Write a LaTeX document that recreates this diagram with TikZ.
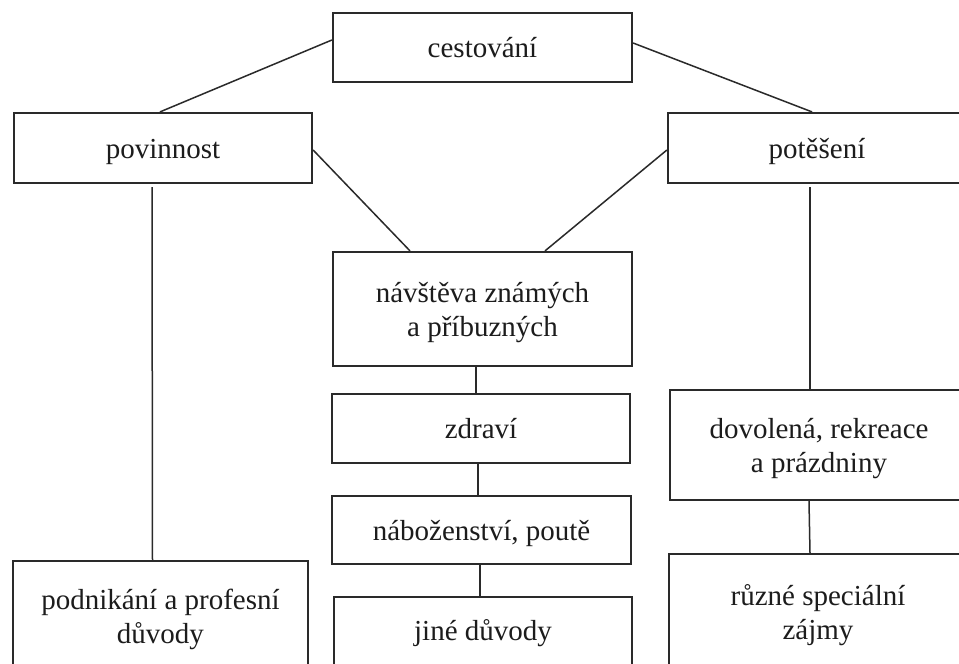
\documentclass[tikz,border=0pt]{standalone}
\usepackage{fontspec}
\setmainfont{Liberation Serif}
\usetikzlibrary{calc}
\definecolor{ink}{HTML}{2A2A2A}
\definecolor{txt}{HTML}{1C1C1C}
% text block: first baseline, declared height 20pt, declared depth #1 pt
\newcommand{\boxtext}[2]{\raisebox{0pt}[20pt][#1pt]{\begin{tabular}[t]{@{}c@{}}#2\end{tabular}}}
\begin{document}
\begin{tikzpicture}[x=1pt,y=-1pt,
  box/.style={draw=ink, line width=2.2pt, inner sep=0pt,
    font=\fontsize{29}{34}\selectfont, text=txt},
  link/.style={draw=ink, line width=1.5pt}]
\useasboundingbox (0,0) rectangle (959,664);
\clip (0,0) rectangle (959,664);
\fill[white] (0,0) rectangle (959,664);
\node[box, minimum width=299pt, minimum height=69pt] (cest) at (482.5,47.5) {\boxtext{0}{cestování}};
\node[box, minimum width=298pt, minimum height=70pt] (pov) at (163,148) {\boxtext{0}{povinnost}};
\node[box, minimum width=298pt, minimum height=70pt] (pot) at (817,148) {\boxtext{0}{potěšení}};
\node[box, minimum width=299pt, minimum height=114pt] (nav) at (482.5,309) {\boxtext{34}{návštěva známých\\a příbuzných}};
\node[box, minimum width=298pt, minimum height=69pt] (zdr) at (481,428.5) {\boxtext{0}{zdraví}};
\node[box, minimum width=299pt, minimum height=68pt] (nab) at (481.5,530) {\boxtext{0}{náboženství, poutě}};
\node[box, minimum width=298pt, minimum height=93pt] (jine) at (483,643.5) {\boxtext{27}{jiné důvody}};
\node[box, minimum width=295pt, minimum height=139pt] (pod) at (160.5,630.5) {\boxtext{63}{podnikání a profesní\\důvody}};
\node[box, minimum width=298pt, minimum height=110pt] (dov) at (819,445) {\boxtext{34}{dovolená, rekreace\\a prázdniny}};
\node[box, minimum width=298pt, minimum height=146pt] (ruz) at (818,627) {\boxtext{64}{různé speciální\\zájmy}};
\draw[link] ([yshift=7.5pt]cest.west) -- ([xshift=-3pt]pov.north);
\draw[link] ([yshift=4.5pt]cest.east) -- ([xshift=-5pt]pot.north);
\draw[link] ([yshift=-2pt]pov.east) -- ([xshift=-72.5pt]nav.north);
\draw[link] ([yshift=-2pt]pot.west) -- ([xshift=62.5pt]nav.north);
\draw[link, shorten <=3pt] ([xshift=-11pt]pov.south) -- ([xshift=-8pt]pod.north);
\draw[link, shorten <=3pt] ([xshift=-7pt]pot.south) -- ([xshift=-9pt]dov.north);
\draw[link] ([xshift=-10pt]dov.south) -- ([xshift=-8pt]ruz.north);
\draw[link] ([xshift=-6.5pt]nav.south) -- ([xshift=-5pt]zdr.north);
\draw[link] ([xshift=-3pt]zdr.south) -- ([xshift=-3.5pt]nab.north);
\draw[link] ([xshift=-1.5pt]nab.south) -- ([xshift=-3pt]jine.north);
\end{tikzpicture}
\end{document}
